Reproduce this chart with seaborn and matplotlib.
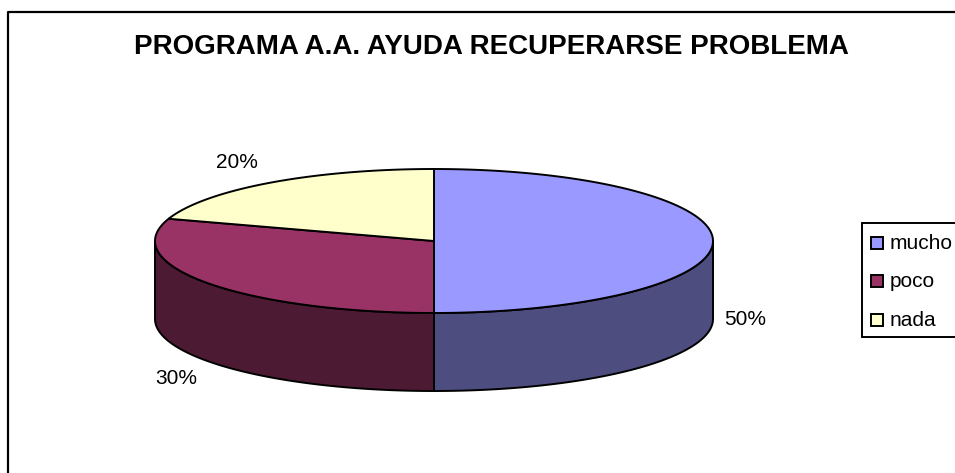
import numpy as np
import matplotlib
matplotlib.use("Agg")
import matplotlib.pyplot as plt
from matplotlib.patches import Rectangle
import seaborn as sns

title = "PROGRAMA A.A. AYUDA RECUPERARSE PROBLEMA"
categories = ["mucho", "poco", "nada"]
values = [50, 30, 20]
top_colors = ["#9999FF", "#993366", "#FFFFCC"]
side_colors = ["#4D4D80", "#4D1A33", "#808066"]

# pixel geometry of the fake 3d pie
cx, cy = 434, 241
rx, ry = 279, 72
depth = 78
label_pos = [(745, 319), (176, 378), (237, 162)]
legend_rows = [243, 281.5, 320]

sns.set_theme(style="white")
plt.rcParams["font.family"] = ["Liberation Sans", "DejaVu Sans"]

fig, ax = plt.subplots(figsize=(9.55, 4.73), dpi=100)
ax.set_position([0, 0, 1, 1])
ax.set_xlim(0, 955)
ax.set_ylim(473, 0)
ax.axis("off")


def rim(a, b, drop=0):
    # angles run clockwise from the top of the pie
    t = np.radians(np.linspace(a, b, 200))
    return cx + rx * np.sin(t), cy - ry * np.cos(t) + drop


edges = np.concatenate([[0], np.cumsum(values)]) / np.sum(values) * 360

# side wall, only the front half shows
for i in range(len(values)):
    a, b = max(edges[i], 90), min(edges[i + 1], 270)
    if a >= b:
        continue
    x1, y1 = rim(a, b)
    x2, y2 = rim(a, b, depth)
    ax.fill(np.r_[x1, x2[::-1]], np.r_[y1, y2[::-1]],
            facecolor=side_colors[i], edgecolor="black", linewidth=1.4, zorder=2)

# top face
for i in range(len(values)):
    x, y = rim(edges[i], edges[i + 1])
    ax.fill(np.r_[cx, x], np.r_[cy, y],
            facecolor=top_colors[i], edgecolor="black", linewidth=1.4, zorder=3)

for i, (px, py) in enumerate(label_pos):
    ax.text(px, py, f"{values[i]}%", ha="center", va="center", fontsize=15, color="black")

ax.text(491, 47, title, ha="center", va="center", fontsize=20, fontweight="bold", color="black")

# outer chart frame, runs off the right and bottom of the image
ax.plot([8, 8, 965], [485, 12, 12], color="black", linewidth=1.6, clip_on=False, zorder=1)

# legend box is cut off by the right edge too
ax.add_patch(Rectangle((862, 222.5), 110, 114, facecolor="white", edgecolor="black",
                       linewidth=1.4, zorder=4))
for name, color, row in zip(categories, top_colors, legend_rows):
    ax.add_patch(Rectangle((870.5, row - 6.5), 12, 12, facecolor=color, edgecolor="black",
                           linewidth=1.4, zorder=5))
    ax.text(890, row, name, ha="left", va="center", fontsize=15, color="black", zorder=5)

fig.savefig("out.png", dpi=100)
